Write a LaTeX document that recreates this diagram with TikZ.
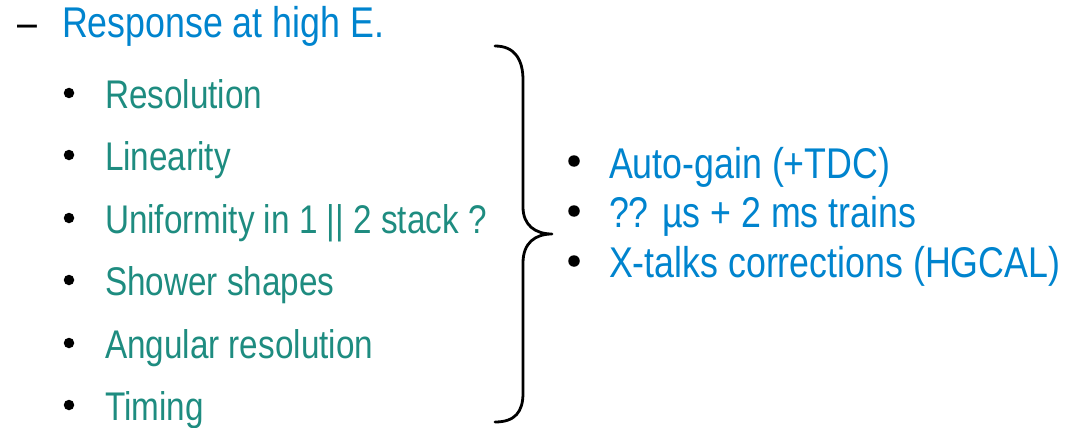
\documentclass[tikz,border=0pt]{standalone}
\usepackage{fontspec}
\setmainfont{Liberation Sans}
\newfontfamily\narrowfont[FakeStretch=0.832]{Liberation Sans}
\definecolor{headblue}{RGB}{0,132,206}
\definecolor{itemteal}{RGB}{30,140,128}
\tikzset{
  txt/.style={anchor=base west, inner sep=0pt, outer sep=0pt},
  head/.style={txt, text=headblue, font=\narrowfont\fontsize{43}{43}\selectfont},
  dashtxt/.style={txt, text=black, font=\narrowfont\fontsize{43}{43}\selectfont},
  item/.style={txt, text=itemteal, font=\narrowfont\fontsize{40}{40}\selectfont},
  ritem/.style={txt, text=headblue, font=\narrowfont\fontsize{43}{43}\selectfont},
  dot/.style={circle, fill=black, inner sep=0pt, minimum size=10.5pt},
  rdot/.style={circle, fill=black, inner sep=0pt, minimum size=11.5pt},
  bracestyle/.style={line width=2.8pt, black, line cap=round, line join=round}
}
\begin{document}
\begin{tikzpicture}[x=1pt,y=-1pt]
\useasboundingbox (0,0) rectangle (1077,428);
% heading
\node[dashtxt] (dash) at (17,38) {–};
\node[head] (heading) at (62,38) {Response at high E.};
% left items
\node[dot] (b1) at (69,93) {};
\node[item] (i1) at (105,108) {Resolution};
\node[dot] (b2) at (69,155) {};
\node[item] (i2) at (105,170) {Linearity};
\node[dot] (b3) at (69,218) {};
\node[item] (i3) at (105,233) {Uniformity in 1 || 2 stack ?};
\node[dot] (b4) at (69,280) {};
\node[item] (i4) at (105,295) {Shower shapes};
\node[dot] (b5) at (69,343) {};
\node[item] (i5) at (105,358) {Angular resolution};
\node[dot] (b6) at (69,405) {};
\node[item] (i6) at (105,420) {Timing};
% brace
\coordinate (btop) at (495,46);
\coordinate (btip) at (552,234);
\coordinate (bbot) at (495,422);
\draw[bracestyle] (btop) .. controls (515,46) and (523,60) .. (523,80)
  -- (523,207) .. controls (523,225) and (535,234) .. (btip)
  .. controls (535,234) and (523,243) .. (523,263)
  -- (523,393) .. controls (523,412) and (515,422) .. (bbot);
% right items
\node[rdot] (r1b) at (574,161) {};
\node[ritem] (r1) at (609,178) {Auto-gain (+TDC)};
\node[rdot] (r2b) at (574,211) {};
\node[ritem] (r2) at (609,227) {?? µs + 2 ms trains};
\node[rdot] (r3b) at (574,261) {};
\node[ritem] (r3) at (609,277) {X-talks corrections (HGCAL)};
\end{tikzpicture}
\end{document}
